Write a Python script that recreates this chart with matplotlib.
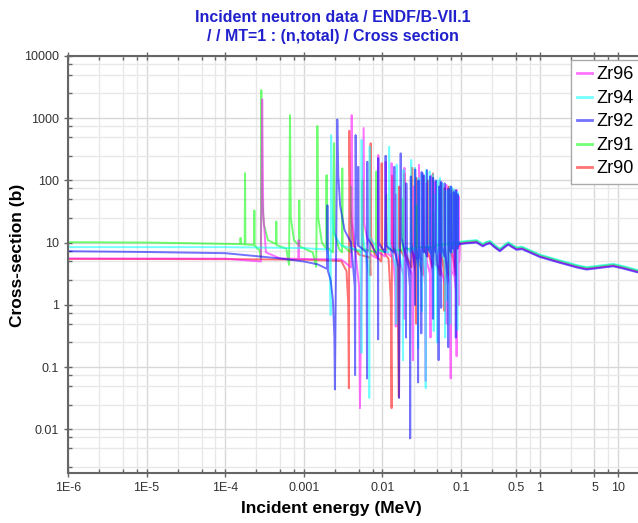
import numpy as np
import matplotlib
matplotlib.use('Agg')
import matplotlib.pyplot as plt
from matplotlib.ticker import FixedLocator, NullFormatter

plt.rcParams['font.family'] = ['Liberation Sans Narrow', 'Liberation Sans', 'DejaVu Sans']

# ---- data (energy in MeV, cross section in b) ----
zr90 = [(1e-6, 5.5), (1e-4, 5.45), (1e-3, 5.35), (3.0e-3, 5.1), (3.5e-3, 3.5), (3.68e-3, 1.0),
        (3.75e-3, 0.046), (3.8e-3, 630), (3.9e-3, 40), (4.3e-3, 9), (5.0e-3, 6.5), (6.9e-3, 5.8),
        (7.05e-3, 3.0), (7.1e-3, 396), (7.2e-3, 12), (8e-3, 6.5), (9.7e-3, 5), (9.8e-3, 190),
        (9.9e-3, 8), (1.2e-2, 5.5), (1.28e-2, 1.2), (1.31e-2, 0.022), (1.33e-2, 120), (1.36e-2, 9),
        (1.55e-2, 5), (1.62e-2, 0.033), (1.64e-2, 80), (1.67e-2, 8), (1.88e-2, 6), (1.9e-2, 130),
        (1.93e-2, 7), (2.35e-2, 4), (2.4e-2, 160), (2.45e-2, 8), (2.66e-2, 3), (2.68e-2, 0.5),
        (2.7e-2, 110), (2.74e-2, 7), (3.25e-2, 3), (3.3e-2, 120), (3.35e-2, 8), (3.78e-2, 6),
        (3.8e-2, 100), (3.83e-2, 7), (4.35e-2, 4), (4.4e-2, 130), (4.45e-2, 8), (5.45e-2, 3),
        (5.5e-2, 90), (5.55e-2, 8), (6.15e-2, 3), (6.18e-2, 0.8), (6.2e-2, 75), (6.25e-2, 7),
        (6.95e-2, 3), (7.0e-2, 80), (7.05e-2, 8), (7.68e-2, 6), (7.7e-2, 70), (7.74e-2, 7),
        (8.55e-2, 3), (8.6e-2, 60), (8.65e-2, 8), (0.095, 9)]

zr91 = [(1e-6, 10.2), (1e-5, 10.1), (1e-4, 9.6), (1.55e-4, 9.5), (1.57e-4, 12), (1.59e-4, 9.5),
        (1.77e-4, 9.4), (1.79e-4, 131), (1.81e-4, 9.4), (2.33e-4, 9.2), (2.35e-4, 33), (2.37e-4, 9.0),
        (2.75e-4, 7.5), (2.84e-4, 5.5), (2.88e-4, 2840), (2.95e-4, 60), (3.1e-4, 20), (3.5e-4, 11),
        (4.45e-4, 9.5), (4.47e-4, 22), (4.5e-4, 9.2), (6.0e-4, 8), (6.5e-4, 4.4), (6.67e-4, 1125),
        (6.85e-4, 25), (7.5e-4, 11), (8.7e-4, 9), (8.77e-4, 48), (8.85e-4, 8.8), (1.3e-3, 7),
        (1.44e-3, 4.1), (1.49e-3, 750), (1.53e-3, 25), (1.7e-3, 10), (1.93e-3, 8), (1.95e-3, 122),
        (1.97e-3, 8.5), (2.35e-3, 7), (2.42e-3, 396), (2.46e-3, 15), (2.8e-3, 8), (3.07e-3, 7),
        (3.09e-3, 157), (3.12e-3, 9), (3.95e-3, 7), (4.0e-3, 80), (4.05e-3, 8), (5.5e-3, 7),
        (5.6e-3, 100), (5.7e-3, 8), (8.3e-3, 7), (8.4e-3, 140), (8.5e-3, 8), (1.1e-2, 7),
        (1.12e-2, 60), (1.14e-2, 8), (1.8e-2, 7.5), (1.82e-2, 50), (1.84e-2, 8), (2.7e-2, 8),
        (2.72e-2, 40), (2.75e-2, 8.5), (4.5e-2, 8.5), (4.53e-2, 30), (4.56e-2, 9), (0.095, 10)]

zr92 = [(1e-6, 7.3), (1e-5, 7.1), (1e-4, 6.8), (5e-4, 5.6), (1.0e-3, 5.0), (1.5e-3, 4.5),
        (1.98e-3, 3.8), (2.0e-3, 40), (2.03e-3, 3.5), (2.2e-3, 2.5), (2.35e-3, 1.2), (2.45e-3, 0.3),
        (2.49e-3, 0.044), (2.67e-3, 955), (2.75e-3, 120), (2.9e-3, 40), (3.3e-3, 16), (4.0e-3, 10),
        (4.45e-3, 2), (4.5e-3, 0.075), (4.57e-3, 537), (4.65e-3, 20), (4.9e-3, 9), (4.93e-3, 166),
        (4.97e-3, 9), (6.3e-3, 7), (6.38e-3, 0.066), (6.43e-3, 200), (6.5e-3, 12), (8.8e-3, 6),
        (8.84e-3, 0.28), (8.87e-3, 230), (8.95e-3, 10), (1.08e-2, 7), (1.1e-2, 250), (1.12e-2, 9),
        (1.4e-2, 7), (1.42e-2, 166), (1.44e-2, 8), (1.6e-2, 4), (1.63e-2, 0.032), (1.71e-2, 273),
        (1.75e-2, 12), (1.98e-2, 6), (2.0e-2, 0.3), (2.02e-2, 90), (2.05e-2, 8), (2.24e-2, 2),
        (2.26e-2, 0.0072), (2.3e-2, 116), (2.34e-2, 10), (2.58e-2, 4), (2.6e-2, 1.0), (2.62e-2, 150),
        (2.66e-2, 9), (2.83e-2, 4), (2.85e-2, 0.057), (2.88e-2, 100), (2.92e-2, 9), (3.1e-2, 5),
        (3.13e-2, 0.35), (3.16e-2, 137), (3.2e-2, 9), (3.38e-2, 7), (3.4e-2, 120), (3.43e-2, 9),
        (3.68e-2, 6), (3.7e-2, 147), (3.73e-2, 9), (4.05e-2, 7), (4.07e-2, 116), (4.1e-2, 9),
        (4.37e-2, 3), (4.4e-2, 0.6), (4.43e-2, 110), (4.47e-2, 9), (4.78e-2, 7), (4.8e-2, 100),
        (4.83e-2, 9), (5.15e-2, 3), (5.2e-2, 0.13), (5.25e-2, 80), (5.3e-2, 9), (5.57e-2, 3),
        (5.6e-2, 0.9), (5.63e-2, 95), (5.67e-2, 9), (6.18e-2, 6), (6.21e-2, 90), (6.25e-2, 9),
        (6.85e-2, 2), (6.9e-2, 0.21), (6.95e-2, 75), (7.0e-2, 9), (7.48e-2, 7), (7.5e-2, 80),
        (7.53e-2, 9), (8.0e-2, 8), (8.1e-2, 65), (8.2e-2, 9), (8.57e-2, 3), (8.6e-2, 0.3),
        (8.63e-2, 70), (8.67e-2, 9), (9.08e-2, 8), (9.1e-2, 60), (9.13e-2, 9), (0.095, 10)]

zr94 = [(1e-6, 8.5), (1e-4, 8.5), (1e-3, 8.2), (2.0e-3, 7.8), (2.15e-3, 5), (2.2e-3, 0.69),
        (2.23e-3, 537), (2.28e-3, 40), (2.4e-3, 14), (3e-3, 9), (5.3e-3, 7.5), (5.42e-3, 0.17),
        (5.45e-3, 450), (5.5e-3, 15), (6.0e-3, 8), (6.75e-3, 3), (6.81e-3, 0.032), (6.9e-3, 350),
        (7.0e-3, 12), (9e-3, 7.5), (1.2e-2, 7), (1.22e-2, 348), (1.24e-2, 10), (1.48e-2, 4),
        (1.5e-2, 0.5), (1.52e-2, 180), (1.55e-2, 9), (1.8e-2, 4), (1.83e-2, 0.13), (1.86e-2, 150),
        (1.9e-2, 9), (2.3e-2, 7), (2.33e-2, 214), (2.36e-2, 9), (2.58e-2, 7), (2.6e-2, 160),
        (2.63e-2, 9), (2.83e-2, 4), (2.85e-2, 0.2), (2.88e-2, 110), (2.92e-2, 9), (3.17e-2, 3),
        (3.2e-2, 0.8), (3.23e-2, 130), (3.27e-2, 9), (3.52e-2, 3), (3.56e-2, 0.046), (3.6e-2, 147),
        (3.65e-2, 10), (3.98e-2, 7), (4.0e-2, 140), (4.03e-2, 9), (4.38e-2, 5), (4.40e-2, 125),
        (4.45e-2, 3), (4.5e-2, 0.38), (4.55e-2, 60), (4.6e-2, 9), (4.97e-2, 3), (5.0e-2, 0.25),
        (5.03e-2, 100), (5.07e-2, 9), (5.38e-2, 7), (5.4e-2, 110), (5.43e-2, 9), (5.75e-2, 6),
        (5.78e-2, 90), (5.82e-2, 9), (6.25e-2, 4), (6.3e-2, 0.3), (6.35e-2, 70), (6.4e-2, 9),
        (6.6e-2, 1.2), (6.84e-2, 70), (6.9e-2, 9), (7.27e-2, 3), (7.3e-2, 0.5), (7.33e-2, 80),
        (7.37e-2, 9), (7.78e-2, 7), (7.8e-2, 75), (7.83e-2, 9), (8.3e-2, 8), (8.32e-2, 70),
        (8.36e-2, 9), (8.8e-2, 9), (8.85e-2, 65), (8.9e-2, 10), (8.97e-2, 3), (9.0e-2, 0.4),
        (9.03e-2, 65), (9.07e-2, 9), (0.095, 10)]

zr96 = [(1e-6, 5.6), (1e-4, 5.55), (2.85e-4, 5.0), (2.96e-4, 2010), (3.05e-4, 30), (3.3e-4, 7),
        (5e-4, 5.6), (8.5e-4, 5.5), (8.6e-4, 11), (8.7e-4, 5.5), (3.0e-3, 5.4), (4.0e-3, 4),
        (4.07e-3, 1125), (4.2e-3, 20), (4.6e-3, 6), (5.05e-3, 2), (5.19e-3, 0.022), (5.78e-3, 695),
        (5.9e-3, 20), (7e-3, 6.5), (8.8e-3, 5.5), (8.87e-3, 257), (8.95e-3, 7), (1.08e-2, 6),
        (1.1e-2, 200), (1.13e-2, 7), (1.29e-2, 6), (1.31e-2, 190), (1.34e-2, 9), (1.46e-2, 2),
        (1.48e-2, 0.45), (1.5e-2, 60), (1.53e-2, 7), (1.87e-2, 3), (1.89e-2, 0.6), (1.91e-2, 160),
        (1.95e-2, 6), (2.4e-2, 3), (2.45e-2, 0.13), (2.5e-2, 80), (2.55e-2, 6), (2.9e-2, 5.5),
        (2.92e-2, 178), (2.96e-2, 6), (3.28e-2, 5), (3.3e-2, 130), (3.33e-2, 5), (3.5e-2, 2),
        (3.56e-2, 0.06), (3.62e-2, 90), (3.68e-2, 5), (4.07e-2, 3), (4.1e-2, 0.3), (4.13e-2, 120),
        (4.17e-2, 5), (4.6e-2, 4.5), (4.63e-2, 95), (4.67e-2, 4.5), (5.38e-2, 4), (5.4e-2, 100),
        (5.43e-2, 4), (6.47e-2, 2), (6.5e-2, 0.5), (6.53e-2, 85), (6.57e-2, 4), (7.3e-2, 2),
        (7.40e-2, 0.066), (7.5e-2, 60), (7.6e-2, 3.5), (8.18e-2, 3), (8.2e-2, 70), (8.23e-2, 3),
        (8.77e-2, 1.5), (8.8e-2, 0.15), (8.83e-2, 70), (8.87e-2, 3), (9.2e-2, 2.5), (9.3e-2, 1.0),
        (9.44e-2, 55), (9.5e-2, 5)]

# smooth fast-neutron part, common to all isotopes (slightly offset band)
e_fast = [0.097, 0.12, 0.158, 0.175, 0.19, 0.21, 0.234, 0.27, 0.313, 0.36, 0.40, 0.45,
          0.51, 0.6, 0.686, 1.01, 1.82, 3.0, 3.97, 5.5, 8.67, 12.0, 17.9]
xs_fast = [10.0, 10.3, 10.6, 9.8, 9.2, 9.9, 10.3, 8.8, 7.7, 8.9, 9.8, 8.9,
           8.1, 8.3, 7.7, 6.2, 5.0, 4.2, 3.9, 4.1, 4.4, 4.0, 3.5]
fast_scale = {'Zr96': 0.97, 'Zr94': 1.04, 'Zr92': 0.95, 'Zr91': 1.02, 'Zr90': 1.0}

isotopes = ['Zr90', 'Zr91', 'Zr96', 'Zr94', 'Zr92']
tables = {'Zr90': zr90, 'Zr91': zr91, 'Zr92': zr92, 'Zr94': zr94, 'Zr96': zr96}
colors = {'Zr96': '#ff00ff', 'Zr94': '#00ffff', 'Zr92': '#0000ff', 'Zr91': '#00ff00', 'Zr90': '#ff0000'}

fig = plt.figure(figsize=(6.38, 5.23), dpi=100)
ax = fig.add_axes([68/638, 1-473/523, 1-68/638, (473-56)/523])

lines = {}
for name in isotopes:
    e = [p[0] for p in tables[name]] + e_fast
    s = [p[1] for p in tables[name]] + [v*fast_scale[name] for v in xs_fast]
    lines[name], = ax.plot(e, s, color=colors[name], lw=1.4, alpha=0.55, label=name)

ax.set_xscale('log')
ax.set_yscale('log')
ax.set_xlim(1e-6, 17.9)
ax.set_ylim(2e-3, 1e4)

xmaj = [1e-6, 1e-5, 1e-4, 1e-3, 1e-2, 0.1, 0.5, 1, 5, 10]
xlab = ['1E-6', '1E-5', '1E-4', '0.001', '0.01', '0.1', '0.5', '1', '5', '10']
xmin = [m*10.0**k for k in range(-6, 2) for m in (2.5, 5, 7.5) if not (k >= -1 and m == 5)]
ymaj = [0.01, 0.1, 1, 10, 100, 1000, 10000]
ylab = ['0.01', '0.1', '1', '10', '100', '1000', '10000']
ymin = [m*10.0**k for k in range(-3, 4) for m in (2.5, 5, 7.5)]

ax.xaxis.set_major_locator(FixedLocator(xmaj))
ax.set_xticklabels(xlab)
ax.xaxis.set_minor_locator(FixedLocator(xmin))
ax.xaxis.set_minor_formatter(NullFormatter())
ax.yaxis.set_major_locator(FixedLocator(ymaj))
ax.set_yticklabels(ylab)
ax.yaxis.set_minor_locator(FixedLocator(ymin))
ax.yaxis.set_minor_formatter(NullFormatter())

ax.grid(True, which='major', color='#d8d8d8', lw=1.0)
ax.grid(True, which='minor', color='#e8e8e8', lw=1.0)
ax.set_axisbelow(True)

for side in ['left', 'bottom', 'top']:
    ax.spines[side].set_color('#666666')
    ax.spines[side].set_linewidth(1.5)
ax.spines['right'].set_visible(False)
ax.tick_params(which='major', direction='inout', length=6, width=1, color='#666666',
               labelcolor='#333333', labelsize=9, top=True)
ax.tick_params(which='minor', direction='in', length=3, width=1, color='#666666', top=True)

fig.text(0.522, 1-18/523, 'Incident neutron data / ENDF/B-VII.1', color='#2020cc',
         fontsize=11.5, fontweight='bold', ha='center', va='center')
fig.text(0.522, 1-37/523, '/ / MT=1 : (n,total) / Cross section', color='#2020cc',
         fontsize=11.5, fontweight='bold', ha='center', va='center')
fig.text(331/638, 1-508/523, 'Incident energy (MeV)', fontsize=12.5, fontweight='bold',
         ha='center', va='center')
fig.text(18/638, 1-255/523, 'Cross-section (b)', fontsize=12.5, fontweight='bold',
         ha='center', va='center', rotation=90)

order = ['Zr96', 'Zr94', 'Zr92', 'Zr91', 'Zr90']
leg = ax.legend([lines[n] for n in order], order, loc='upper left',
                bbox_to_anchor=(571/638, 1-60/523), bbox_transform=fig.transFigure,
                prop={'family': ['Liberation Sans', 'DejaVu Sans'], 'size': 13},
                handlelength=0.8, handletextpad=0.25, labelspacing=0.36, borderaxespad=0,
                fancybox=False, framealpha=1, edgecolor='#aaaaaa', borderpad=0.35)
for h in leg.get_lines():
    h.set_linewidth(2)

fig.savefig('out.png', dpi=100)
